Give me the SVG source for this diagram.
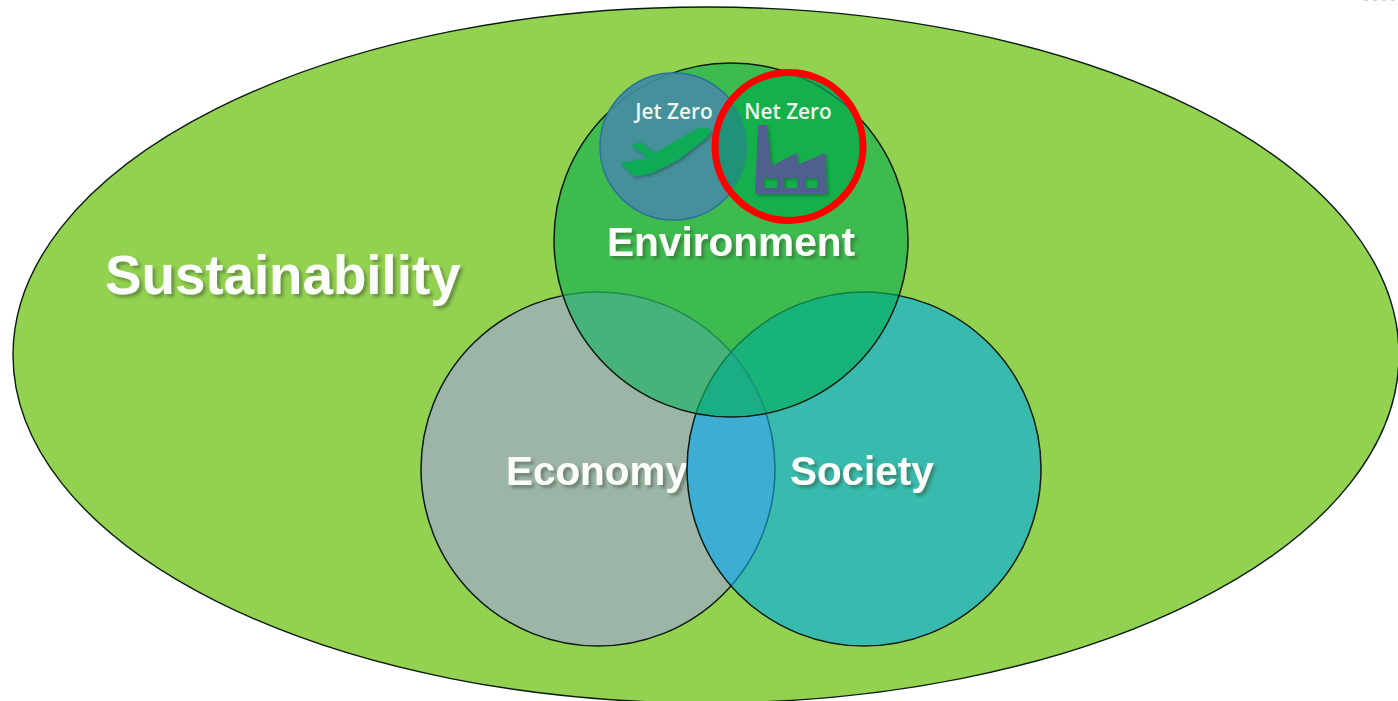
<svg xmlns="http://www.w3.org/2000/svg" width="1398" height="701" viewBox="0 0 1398 701">
<style>
.o{fill:none;stroke-width:1.5}
.t{font-family:"Liberation Sans",Arial,sans-serif;font-weight:700;fill:#fbfdf8;filter:url(#s)}
.n{font-family:"Open Sans","Noto Sans",sans-serif;font-weight:600;font-size:20.8px;fill:#eef9ee;text-anchor:middle}
</style>
<defs>
<filter id="s" x="-10%" y="-20%" width="125%" height="150%"><feGaussianBlur in="SourceGraphic" stdDeviation=".45" result="b"/><feGaussianBlur in="SourceAlpha" stdDeviation="1.8" result="a"/><feOffset in="a" dx="2.5" dy="3" result="o"/><feFlood flood-color="#33402a" flood-opacity=".42"/><feComposite in2="o" operator="in" result="h"/><feMerge><feMergeNode in="h"/><feMergeNode in="b"/></feMerge></filter>
<filter id="i" x="-15%" y="-15%" width="135%" height="135%"><feGaussianBlur in="SourceGraphic" stdDeviation=".5" result="b"/><feGaussianBlur in="SourceAlpha" stdDeviation="1.8" result="a"/><feOffset in="a" dx="2" dy="2" result="o"/><feFlood flood-color="#1d3a30" flood-opacity=".4"/><feComposite in2="o" operator="in" result="h"/><feMerge><feMergeNode in="h"/><feMergeNode in="b"/></feMerge></filter>
<clipPath id="cEnv"><circle cx="731" cy="240" r="177"/></clipPath>
<clipPath id="cEco"><circle cx="598" cy="469" r="177"/></clipPath>
<clipPath id="cSoc"><circle cx="864" cy="469" r="177"/></clipPath>
<clipPath id="cJet"><circle cx="673.5" cy="146.5" r="73.5"/></clipPath>
<clipPath id="cNet"><circle cx="789" cy="146.5" r="74"/></clipPath>
</defs>
<rect width="1398" height="701" fill="#fff"/>
<line x1="1364" y1="0.5" x2="1398" y2="0.5" stroke="#b5b5b5" stroke-dasharray="4 5" opacity=".6"/>
<g id="sustainability">
<ellipse cx="706" cy="355" rx="693" ry="348" fill="#92d250" stroke="#0b1a10" stroke-width="1.4"/>
<text class="t" x="105" y="294" font-size="54.7">Sustainability</text>
</g>
<g id="economy">
<circle cx="598" cy="469" r="177" fill="#9cb5a7" stroke="#0b1a10" stroke-width="1.5"/>
<text class="t" x="506" y="485" font-size="40.4">Economy</text>
</g>
<g id="society">
<circle cx="864" cy="469" r="177" fill="#38bbae"/>
<g clip-path="url(#cEco)"><circle cx="864" cy="469" r="177" fill="#3dadd4"/></g>
<g clip-path="url(#cSoc)"><circle class="o" cx="598" cy="469" r="177" stroke="#12708c"/></g>
<circle class="o" cx="864" cy="469" r="177" stroke="#0b1a10"/>
<text class="t" x="790" y="485" font-size="40.4">Society</text>
</g>
<g id="environment">
<circle cx="731" cy="240" r="177" fill="#3dbb4f"/>
<g clip-path="url(#cEnv)">
<circle cx="598" cy="469" r="177" fill="#47b279"/>
<circle cx="864" cy="469" r="177" fill="#17b379"/>
<g clip-path="url(#cEco)"><circle cx="864" cy="469" r="177" fill="#1bad84"/></g>
<circle class="o" cx="598" cy="469" r="177" stroke="#1c8a4c"/>
<g clip-path="url(#cSoc)"><circle class="o" cx="598" cy="469" r="177" stroke="#159a84"/></g>
<circle class="o" cx="864" cy="469" r="177" stroke="#0d7d48"/>
</g>
<circle class="o" cx="731" cy="240" r="177" stroke="#0b1a10" stroke-width="1.8"/>
<text class="t" x="607" y="256" font-size="40.6">Environment</text>
</g>
<g id="jet-zero">
<circle cx="673.5" cy="146.5" r="73.5" fill="#46909c" stroke="#2a6f9a" stroke-width="1.4"/>
<g clip-path="url(#cJet)"><circle class="o" cx="731" cy="240" r="177" stroke="#3a8494"/></g>
<text class="n" x="674" y="119">Jet Zero</text>
<path filter="url(#i)" fill="#0fab55" d="M710 130 Q707 126 698 128 L672 143 L655 153 L640 142 L631 145 L648 158 L620 163 L634 176 Q646 175 654 172 L678 160 L705 139 Q711 134 710 130 Z"/>
</g>
<g id="net-zero">
<g clip-path="url(#cNet)">
<circle cx="789" cy="146.5" r="74" fill="#15b04c"/>
<g clip-path="url(#cJet)"><circle cx="789" cy="146.5" r="74" fill="#1f9277"/></g>
<circle class="o" cx="731" cy="240" r="177" stroke="#11705c"/>
</g>
<text class="n" x="788" y="119">Net Zero</text>
<path filter="url(#i)" fill="#4f5f8e" fill-rule="evenodd" d="M758 125 H767 L771 166 L797 153 V165 L825 153 L827 194 H755 Z M763 178 V188 H777 V178 Z M784 178 V188 H797 V178 Z M805 178 V188 H817 V178 Z"/>
<circle cx="789" cy="146.5" r="74" fill="none" stroke="#fe0000" stroke-width="7"/>
</g>
</svg>
